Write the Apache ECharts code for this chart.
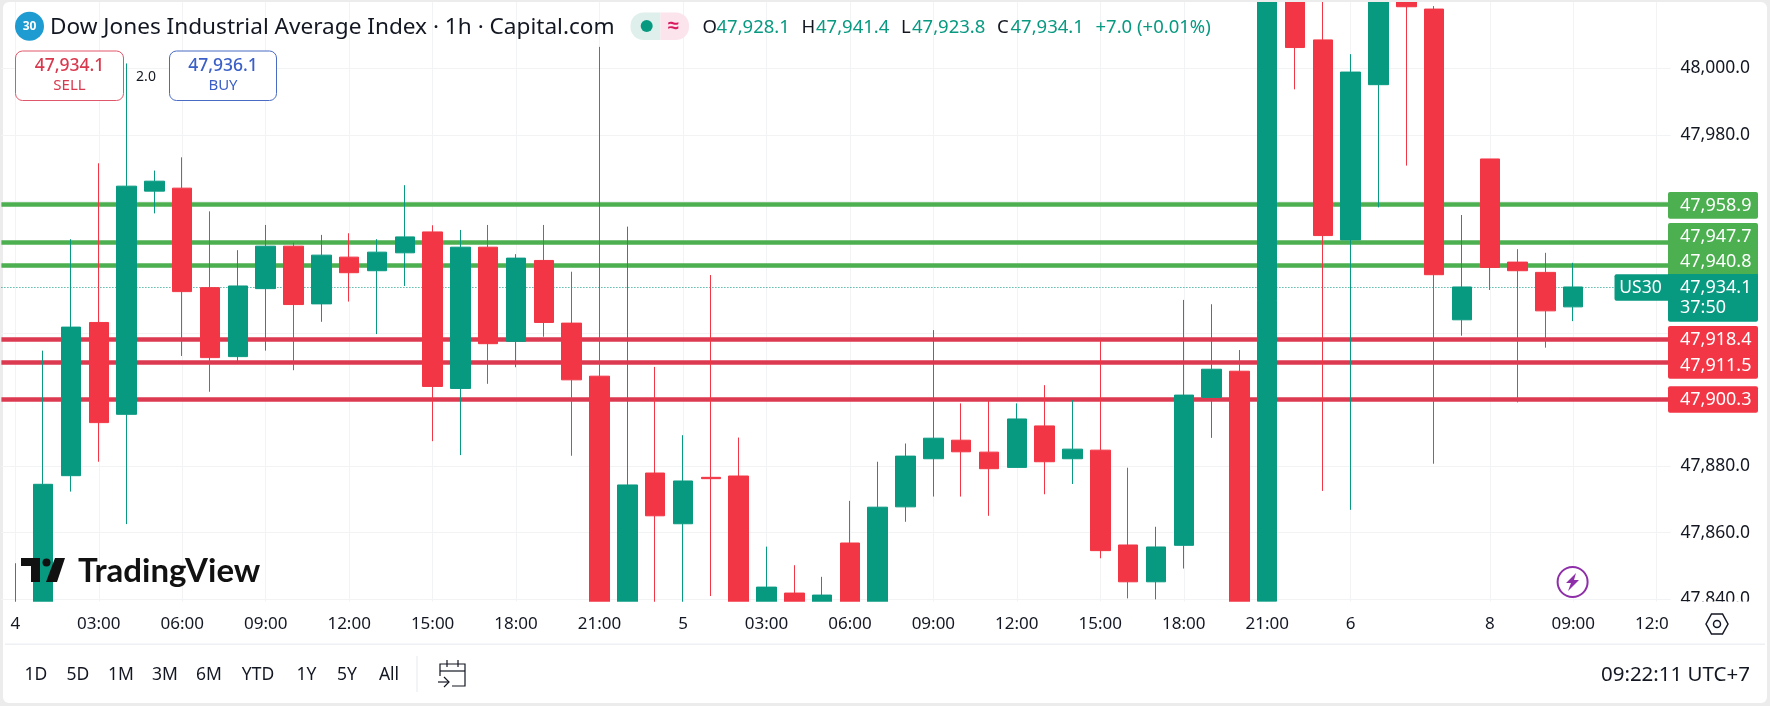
<!DOCTYPE html>
<html>
<head>
<meta charset="utf-8">
<title>US30 1h</title>
<style>
  html, body { margin: 0; padding: 0; background: #ececec; }
  #chart { width: 1770px; height: 706px; }
</style>
<script src="https://cdn.jsdelivr.net/npm/echarts@6/dist/echarts.min.js"></script>
</head>
<body>
<div id="chart"></div>
<script>
const categories = ['4','','','03:00','','','06:00','','','09:00','','','12:00','','','15:00','','','18:00','','','21:00','','',
  '5','','','03:00','','','06:00','','','09:00','','','12:00','','','15:00','','','18:00','','','21:00','','',
  '6','','','','','8','','','09:00','','','12:00']
const opens = [47830,47835,47877.2,47923.4,47895.7,47963,47963.9,47933.9,47913.1,47933.6,47946.4,47929,47943.1,47939,47944.4,47950.7,47903.5,47946.1,47917.7,47942.1,47923.2,47907.2,47835,47878,47862.7,47876.7,47877.1,47835,47841.8,47835,47856.9,47835,47867.8,47882.3,47887.9,47884.3,47879.7,47892.2,47882.3,47884.9,47856.3,47845.2,47856.2,47900.8,47908.7,47839.3,48030,48008.6,47948.3,47995.1,48020.1,48017.9,47924.2,47972.7,47941.6,47938.5,47928.1]
const closes = [47832,47874.6,47922,47893.2,47964.5,47966,47932.7,47912.8,47934.4,47946.4,47928.8,47943.7,47938.4,47944.6,47949.2,47904.1,47946.1,47917,47942.8,47923.4,47906.1,47835,47874.4,47865.1,47875.6,47876.3,47835,47843.6,47838,47841.2,47835,47867.7,47883.1,47888.5,47884.4,47879.3,47894.3,47881.4,47885.2,47854.6,47845.2,47855.7,47901.5,47909.3,47830,48030,48006.3,47949.6,47998.9,48030,48018.6,47937.8,47934.1,47940,47939,47926.9,47934.1]
const highs = [47850.8,47914.9,47948.5,47971.4,48001.5,47969.2,47973.2,47956.9,47945.2,47952.8,47947.5,47949.8,47950.3,47948.5,47964.8,47952.7,47951.3,47952.8,47944,47952.8,47938.7,48006.5,47952.3,47910,47889.4,47937.7,47888.7,47855.8,47850.2,47846.7,47869.6,47881.4,47886.9,47921.1,47899,47899.8,47899,47904.5,47900,47918.1,47879.6,47861.8,47930.2,47928.9,47915.1,48035,48035,48030,48004.3,48035,48030,48018.8,47955.8,47972.7,47945.5,47944.4,47941.4]
const lows = [47830,47830,47872.4,47881.4,47862.6,47956.3,47913.3,47902.5,47911.1,47914.9,47909,47923.6,47929.7,47919.9,47934.4,47887.6,47883.4,47904.9,47909.9,47919.1,47883.2,47830,47830,47835,47838,47840.9,47830,47835,47835,47835,47830,47830,47863.3,47870.9,47870.9,47865.1,47879.7,47871.6,47874.7,47852.3,47840.2,47839.9,47849.2,47888.6,47830,47830,47993.7,47872.6,47866.9,47958.1,47970.7,47880.8,47919.4,47933.2,47899.3,47915.8,47923.8]

const priceTicks = [47840,47860,47880,47900,47920,47940,47960,47980,48000]
const supportLevels = [47918.4,47911.5,47900.3]
const resistLevels = [47958.9,47947.7,47940.8]
const lastPrice = 47934.1
const rangeButtons = ['1D','5D','1M','3M','6M','YTD','1Y','5Y','All']
const rangeButtonX = [36,78,121,165,209,258,306.5,347,389]

const UP = '#089981'
const DOWN = '#f23645'
const GREEN_LINE = '#4caf50'
const RED_LINE = '#dc3a50'
const INK = '#131722'
const FONT = '"Noto Sans", sans-serif'

function fmt(v) {
  return v.toLocaleString('en-US', { minimumFractionDigits: 1, maximumFractionDigits: 1 })
}
function label(x, y, text, color, size, extra) {
  return {
    type: 'text', x: x, y: y, z: 20,
    style: Object.assign({ text: text, fill: color, font: size + 'px ' + FONT, textVerticalAlign: 'middle' }, extra || {})
  }
}
function box(x, y, w, h, fill, r) {
  return { type: 'rect', z: 19, shape: { x: x, y: y, width: w, height: h, r: r || 0 }, style: { fill: fill } }
}
function stroke(points) {
  return { type: 'polyline', z: 20, shape: { points: points }, style: { fill: 'none', stroke: INK, lineWidth: 1.2 } }
}

// header, order tickets, price tags, footer
const graphics = [
  { type: 'rect', z: -1, shape: { x: 3, y: 2, width: 1764, height: 701, r: 6 }, style: { fill: '#fff' } },
  // candles run past the pane, hide that part. x axis labels stay on top of this one
  { type: 'rect', z: 5, shape: { x: 3, y: 601.7, width: 1762, height: 42 }, style: { fill: '#fff' } },
  { type: 'rect', z: 5, shape: { x: 0, y: 0, width: 1770, height: 2 }, style: { fill: '#ececec' } },
  box(1668, 601.7, 97, 42, '#fff'),
  { type: 'rect', z: 19, shape: { x: 5, y: 643.5, width: 1760, height: 1.5 }, style: { fill: '#eef0f3' } },
  { type: 'circle', z: 20, shape: { cx: 29.5, cy: 26.3, r: 14.5 }, style: { fill: '#1e9bd1' } },
  label(29.5, 26.5, '30', '#fff', 12, { textAlign: 'center', font: 'bold 12px ' + FONT }),
  label(50, 28, 'Dow Jones Industrial Average Index · 1h · Capital.com', INK, 22.6),
  box(630.5, 12.5, 30, 27.5, '#dff0ec', [13, 0, 0, 13]),
  box(660.5, 12.5, 28.5, 27.5, '#fce4ec', [0, 13, 13, 0]),
  { type: 'circle', z: 20, shape: { cx: 646.7, cy: 26, r: 6 }, style: { fill: UP } },
  label(673.5, 26, '≈', '#d81b60', 20, { textAlign: 'center', font: 'bold 20px ' + FONT }),
  label(702.5, 27.5, 'O', INK, 18.5), label(716.5, 27.5, '47,928.1', UP, 18.5),
  label(801.5, 27.5, 'H', INK, 18.5), label(816, 27.5, '47,941.4', UP, 18.5),
  label(901, 27.5, 'L', INK, 18.5), label(912, 27.5, '47,923.8', UP, 18.5),
  label(997, 27.5, 'C', INK, 18.5), label(1010.5, 27.5, '47,934.1', UP, 18.5),
  label(1095.5, 27.5, '+7.0 (+0.01%)', UP, 18.5),

  { type: 'rect', z: 20, shape: { x: 15.5, y: 51, width: 108, height: 49.5, r: 7 }, style: { fill: '#fff', stroke: '#e0566a', lineWidth: 1 } },
  label(69.5, 66, '47,934.1', '#d8394e', 17.5, { textAlign: 'center', font: '500 17.5px ' + FONT }),
  label(69.5, 86, 'SELL', '#d8394e', 15, { textAlign: 'center' }),
  label(146, 77, '2.0', INK, 14, { textAlign: 'center' }),
  { type: 'rect', z: 20, shape: { x: 169.5, y: 51, width: 107, height: 49.5, r: 7 }, style: { fill: '#fff', stroke: '#4a6bc4', lineWidth: 1 } },
  label(223, 66, '47,936.1', '#3a5fc7', 17.5, { textAlign: 'center', font: '500 17.5px ' + FONT }),
  label(223, 86, 'BUY', '#3a5fc7', 15, { textAlign: 'center' }),

  box(1668, 192, 90, 26.7, GREEN_LINE, 2),
  box(1668, 223, 90, 51, GREEN_LINE, [2, 2, 0, 0]),
  box(1668, 274, 90, 47.7, UP, [0, 0, 2, 2]),
  box(1614.5, 274.3, 54, 26.4, UP, [2, 0, 0, 2]),
  box(1668, 326, 90, 52.7, DOWN, 2),
  box(1668, 386.3, 90, 26.4, DOWN, 2),
  label(1680, 205.5, fmt(resistLevels[0]), '#fff', 18),
  label(1680, 236.5, fmt(resistLevels[1]), '#fff', 18),
  label(1680, 262, fmt(resistLevels[2]), '#fff', 18),
  label(1680, 288, fmt(lastPrice), '#fff', 18),
  label(1680, 308.3, '37:50', '#fff', 18),
  label(1640.5, 288, 'US30', '#fff', 17.5, { textAlign: 'center' }),
  label(1680, 339.5, fmt(supportLevels[0]), '#fff', 18),
  label(1680, 366, fmt(supportLevels[1]), '#fff', 18),
  label(1680, 399.5, fmt(supportLevels[2]), '#fff', 18),

  // TradingView mark
  { type: 'polygon', z: 20, shape: { points: [[21, 558], [40, 558], [40, 582], [31, 582], [31, 566], [21, 566]] }, style: { fill: '#111' } },
  { type: 'circle', z: 20, shape: { cx: 46.5, cy: 562.5, r: 4 }, style: { fill: '#111' } },
  { type: 'polygon', z: 20, shape: { points: [[55, 558], [65, 558], [57, 582], [46, 582]] }, style: { fill: '#111' } },
  label(78, 571, 'TradingView', '#111', 33, { font: 'bold 33px Lato, ' + FONT }),

  { type: 'circle', z: 20, shape: { cx: 1572.6, cy: 582, r: 15 }, style: { fill: '#fff', stroke: '#8e2ea8', lineWidth: 2 } },
  { type: 'polygon', z: 20, shape: { points: [[1576, 573], [1566, 583], [1571, 583], [1568, 591], [1579, 580], [1574, 580]] }, style: { fill: '#8e2ea8' } },
  { type: 'polygon', z: 20, shape: { points: [[1706, 624], [1711.5, 614], [1722.5, 614], [1728, 624], [1722.5, 634], [1711.5, 634]] }, style: { fill: '#fff', stroke: INK, lineWidth: 1.5 } },
  { type: 'circle', z: 20, shape: { cx: 1717, cy: 624, r: 3.5 }, style: { fill: '#fff', stroke: INK, lineWidth: 1.5 } },

  box(416.5, 656, 1, 36, '#e8eaee'),
  stroke([[440, 676], [440, 664], [465, 664], [465, 686], [452, 686]]),
  stroke([[440, 671], [465, 671]]),
  stroke([[447, 660], [447, 667]]),
  stroke([[458, 660], [458, 667]]),
  stroke([[438, 682], [449, 682]]),
  stroke([[444, 677], [449, 682], [444, 687]]),
  label(1750, 675, '09:22:11 UTC+7', INK, 20.5, { textAlign: 'right' })
]
rangeButtons.forEach(function (name, i) {
  graphics.push(label(rangeButtonX[i], 675, name, INK, 17.5, { textAlign: 'center' }))
})

const candles = opens.map(function (o, i) {
  return [o, closes[i], lows[i], highs[i]]
})
const levelLines = []
resistLevels.forEach(function (v) {
  levelLines.push({ yAxis: v, lineStyle: { color: GREEN_LINE, width: 4.5, type: 'solid', opacity: 1 } })
})
supportLevels.forEach(function (v) {
  levelLines.push({ yAxis: v, lineStyle: { color: RED_LINE, width: 4.5, type: 'solid', opacity: 1 } })
})
levelLines.push({ yAxis: lastPrice, lineStyle: { color: UP, width: 1, type: [1, 2], opacity: 1 } })
// vertical grid sits on the labelled candles, not on the band edges
const gridLines = []
categories.forEach(function (c, i) {
  if (c !== '') gridLines.push({ xAxis: i, lineStyle: { color: '#f2f3f5', width: 1, type: 'solid', opacity: 1 } })
})

const myChart = echarts.init(document.getElementById('chart'))
myChart.setOption({
  animation: false,
  backgroundColor: '#ececec',
  grid: { left: 1.4, right: 99.4, top: 2.1, bottom: 104.3, outerBoundsMode: 'none' },
  xAxis: {
    type: 'category',
    z: 10,
    data: categories,
    axisLine: { show: false },
    axisTick: { show: false },
    splitLine: { show: false },
    axisLabel: { interval: 0, hideOverlap: false, color: INK, fontSize: 17, fontFamily: FONT, margin: 14 }
  },
  yAxis: {
    type: 'value',
    position: 'right',
    min: 47839.2,
    max: 48020,
    axisLine: { show: false },
    axisTick: { show: false, customValues: priceTicks },
    splitLine: { show: true, lineStyle: { color: '#f2f3f5', width: 1 } },
    axisLabel: { customValues: priceTicks, color: INK, fontSize: 17.5, fontFamily: FONT, margin: 10, formatter: fmt }
  },
  graphic: graphics,
  series: [
    {
      name: 'grid',
      type: 'line',
      z: 0,
      data: [],
      markLine: { silent: true, symbol: 'none', z: 0, label: { show: false }, data: gridLines }
    },
    {
      name: 'levels',
      type: 'line',
      z: 1,
      data: [],
      markLine: { silent: true, symbol: 'none', z: 1, label: { show: false }, data: levelLines }
    },
    {
      name: 'US30',
      type: 'candlestick',
      z: 3,
      barWidth: 20,
      clip: true,
      data: candles,
      itemStyle: { color: UP, color0: DOWN, borderColor: UP, borderColor0: DOWN, borderColorDoji: DOWN, borderWidth: 1 }
    }
  ]
})
</script>
</body>
</html>
